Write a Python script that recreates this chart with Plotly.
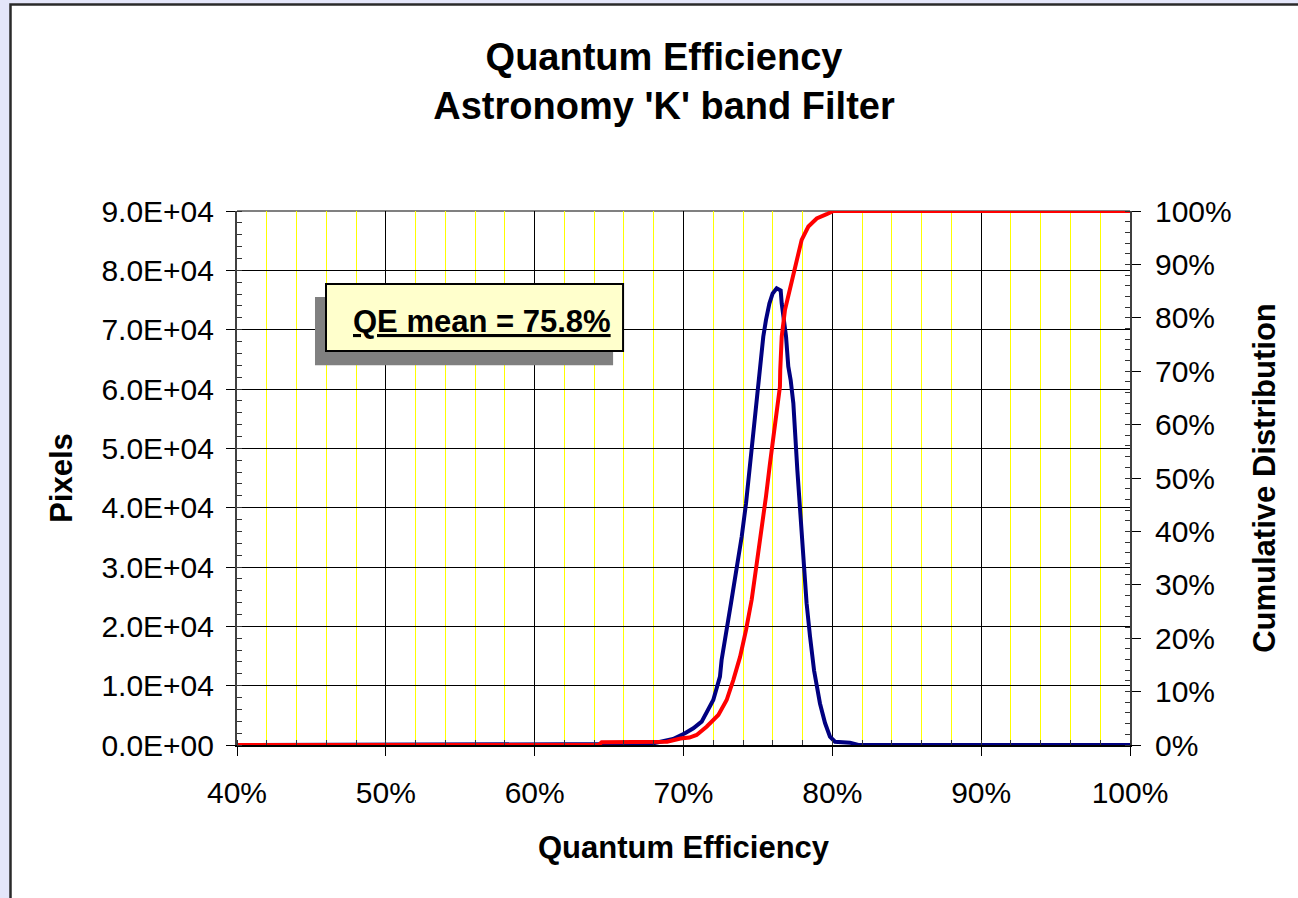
import plotly.graph_objects as go

# ---------------- data ----------------
# Histogram of pixel quantum efficiency (x in %, y in pixel counts)
hist_qe = [40.0, 64.4, 66.0, 68.0, 68.42, 69.3, 70.10, 70.66, 71.22, 72.00, 72.45, 72.56,
           73.19, 73.57, 73.91, 74.20, 74.42, 74.65, 74.87, 75.09, 75.36, 75.54, 75.77,
           75.99, 76.26, 76.53, 76.60, 76.89, 77.04, 77.20, 77.38, 77.65, 77.94, 78.27,
           78.50, 78.77, 79.17, 79.51, 79.84, 80.18, 81.18, 81.75, 100.0]
hist_pixels = [0, 100, 150, 300, 560, 1000, 1970, 2810, 3940, 7590, 11520, 14330,
               23880, 29500, 35100, 40700, 46300, 52000, 57600, 63200, 68800, 71600, 74400,
               76100, 76970, 76600, 74400, 68800, 63800, 61500, 57600, 46300, 35100, 23900,
               18300, 12600, 7000, 3700, 1400, 560, 400, 0, 0]

# Cumulative distribution (x in %, y in %)
cum_qe = [40.0, 64.3, 64.5, 68.9, 69.8, 70.4, 70.88, 71.55, 72.34, 72.90, 73.35, 73.80,
          74.20, 74.58, 74.92, 75.25, 75.54, 75.81, 76.03, 76.30, 76.48, 76.50, 76.60,
          76.82, 77.15, 77.38, 77.60, 77.94, 78.39, 78.95, 79.62, 80.07, 100.0]
cum_pct = [0, 0, 0.5, 0.6, 1.2, 1.4, 1.87, 3.43, 5.62, 8.42, 12.2, 16.5,
           21.5, 27.2, 34.0, 40.3, 46.5, 52.7, 57.7, 64.0, 67.1, 70.2, 76.5,
           81.5, 85.5, 88.0, 90.8, 94.6, 97.1, 98.6, 99.4, 100.0, 100.0]

left_tick_vals = [0, 10000, 20000, 30000, 40000, 50000, 60000, 70000, 80000, 90000]
left_tick_text = ["0.0E+00", "1.0E+04", "2.0E+04", "3.0E+04", "4.0E+04",
                  "5.0E+04", "6.0E+04", "7.0E+04", "8.0E+04", "9.0E+04"]

title_lines = ["Quantum Efficiency", "Astronomy 'K' band Filter"]
mean_label = "QE mean = 75.8%"

# ---------------- layout geometry ----------------
W, H = 1298, 898
ML, MR, MT, MB = 237, 168, 211, 153
PW, PH = W - ML - MR, H - MT - MB


def px_x(p):
    return (p - ML) / PW


def px_y(p):
    return 1 - (p - MT) / PH


FONT = "Liberation Sans, Arial, sans-serif"
BG = "#E4E6FA"

fig = go.Figure()
fig.add_trace(go.Scatter(x=hist_qe, y=hist_pixels, mode="lines",
                         line=dict(color="#000080", width=4),
                         cliponaxis=False, showlegend=False, name="Pixels"))
fig.add_trace(go.Scatter(x=cum_qe, y=cum_pct, mode="lines", yaxis="y2",
                         line=dict(color="#FF0000", width=4),
                         cliponaxis=False, showlegend=False, name="Cumulative"))

shapes = [
    # white chart area with dark frame
    dict(type="rect", xref="paper", yref="paper", layer="below",
         x0=px_x(10.5), x1=px_x(1310), y0=px_y(910), y1=px_y(4.5),
         fillcolor="white", line=dict(color="#2a2a2a", width=2.5)),
    # gray top border of plot area
    dict(type="line", xref="paper", yref="paper", layer="between",
         x0=0, x1=1, y0=1, y1=1, line=dict(color="#808080", width=2)),
    # shadow of the label box
    dict(type="rect", xref="x", yref="y", layer="above",
         x0=45.24, x1=65.27, y0=64000, y1=75500,
         fillcolor="#808080", line=dict(width=0)),
    # label box
    dict(type="rect", xref="x", yref="y", layer="above",
         x0=45.98, x1=65.94, y0=66400, y1=77700,
         fillcolor="#FFFFCC", line=dict(color="black", width=2)),
]

annotations = [
    dict(text="<b><u>" + mean_label + "</u></b>", xref="x", yref="y",
         x=65.25, y=71300, xanchor="right", yanchor="middle", showarrow=False,
         font=dict(family=FONT, size=31, color="black")),
]

fig.update_layout(
    width=W, height=H, autosize=False,
    margin=dict(l=ML, r=MR, t=MT, b=MB, pad=0),
    paper_bgcolor=BG, plot_bgcolor="white",
    font=dict(family=FONT, size=30, color="black"),
    title=dict(text="<b>" + title_lines[0] + "<br>" + title_lines[1] + "</b>",
               x=px_x(664), xref="paper", xanchor="center",
               y=1 - 70 / H, yref="container", yanchor="middle",
               font=dict(family=FONT, size=38, color="black")),
    shapes=shapes, annotations=annotations,
    xaxis=dict(range=[40, 100], tickmode="linear", tick0=40, dtick=10, ticksuffix="%",
               showgrid=True, gridcolor="black", gridwidth=1, zeroline=False,
               showline=True, linecolor="black", linewidth=2,
               ticks="outside", ticklen=9, tickcolor="black", tickwidth=1,
               ticklabelstandoff=11,
               tickfont=dict(family=FONT, size=30),
               minor=dict(tickmode="linear", tick0=40, dtick=2, showgrid=True,
                          gridcolor="#FFFF00", gridwidth=1.4,
                          ticks="inside", ticklen=5, tickcolor="#333"),
               title=dict(text="<b>Quantum Efficiency</b>", standoff=28,
                          font=dict(family=FONT, size=31))),
    yaxis=dict(range=[0, 90000], tickmode="array", tickvals=left_tick_vals,
               ticktext=left_tick_text,
               showgrid=True, gridcolor="black", gridwidth=1, zeroline=False,
               showline=True, linecolor="#404040", linewidth=2,
               ticks="outside", ticklen=9, tickcolor="black", tickwidth=1,
               ticklabelstandoff=6,
               tickfont=dict(family=FONT, size=30),
               minor=dict(tickmode="linear", tick0=0, dtick=2000, showgrid=False,
                          ticks="inside", ticklen=5, tickcolor="#333"),
               title=dict(text="<b>Pixels</b>", standoff=20,
                          font=dict(family=FONT, size=31))),
    yaxis2=dict(range=[0, 100], overlaying="y", side="right", anchor="x",
                tickmode="linear", tick0=0, dtick=10, ticksuffix="%",
                showgrid=False, zeroline=False,
                showline=True, linecolor="#404040", linewidth=2,
                ticks="outside", ticklen=9, tickcolor="black", tickwidth=1,
                ticklabelstandoff=8,
                tickfont=dict(family=FONT, size=30),
                minor=dict(tickmode="linear", tick0=0, dtick=2, showgrid=False,
                           ticks="inside", ticklen=5, tickcolor="#333"),
                title=dict(text="<b>Cumulative Distribution</b>", standoff=23,
                           font=dict(family=FONT, size=31))),
)

fig.write_html(
    "out.html",
    config={"displayModeBar": False},
    post_script=("document.body.style.margin='0';"
                 "document.body.style.overflow='hidden';"
                 "document.body.style.background='" + BG + "';"),
)
